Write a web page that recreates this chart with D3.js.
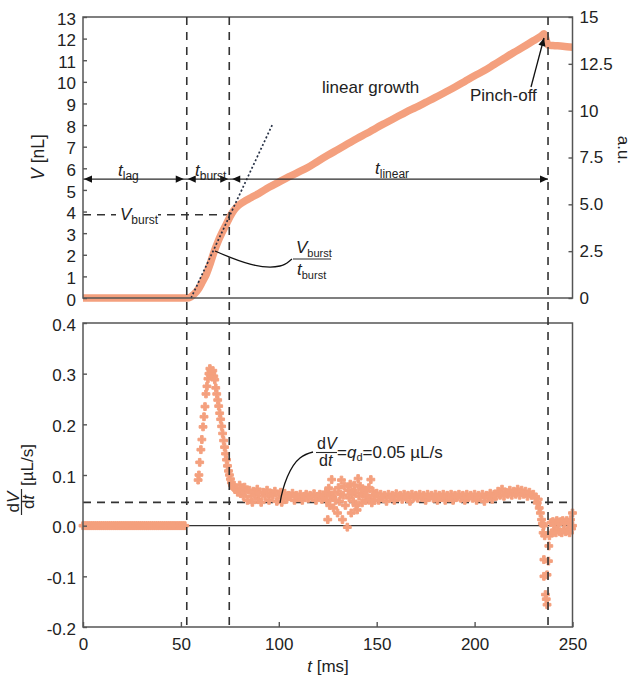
<!DOCTYPE html>
<html><head><meta charset="utf-8">
<script src="https://cdn.jsdelivr.net/npm/d3@7"></script>
<style>
body{margin:0;background:#fff}
svg{display:block}
text{font-family:"Liberation Sans",Arial,Helvetica,sans-serif;fill:#222}
</style>
</head><body><svg id="c" width="632" height="680"></svg>
<script>
// ---------- data ----------
const timeTicks = [0, 50, 100, 150, 200, 250];
const volumeTicks = [0, 1, 2, 3, 4, 5, 6, 7, 8, 9, 10, 11, 12, 13];
const auTicks = [0, 2.5, 5, 7.5, 10, 12.5, 15];
const auLabels = ["0", "2.5", "5.0", "7.5", "10", "12.5", "15"];
const rateTicks = [-0.2, -0.1, 0, 0.1, 0.2, 0.3, 0.4];
const rateLabels = ["-0.2", "-0.1", "0.0", "0.1", "0.2", "0.3", "0.4"];

// droplet volume V [nL] vs t [ms]
const volumeT = [0, 10, 20, 30, 40, 50, 53, 55, 57, 59, 61, 63, 65, 67, 69, 71, 73, 75, 77, 79, 82, 86, 90, 95, 100, 105, 110, 115, 120, 125, 130, 135, 140, 145, 150, 155, 160, 165, 170, 175, 180, 185, 190, 195, 200, 205, 210, 215, 220, 225, 230, 234, 235.5, 236.5, 237.5, 240, 245, 250];
const volumeV = [0, 0, 0, 0, 0, 0, 0, 0.05, 0.2, 0.42, 0.75, 1.1, 1.6, 2.15, 2.62, 3.02, 3.38, 3.75, 4.05, 4.25, 4.45, 4.65, 4.85, 5.12, 5.36, 5.6, 5.82, 6.05, 6.33, 6.6, 6.86, 7.12, 7.38, 7.62, 7.88, 8.12, 8.36, 8.6, 8.82, 9.05, 9.28, 9.52, 9.76, 10.02, 10.28, 10.52, 10.8, 11.08, 11.36, 11.62, 11.9, 12.12, 12.22, 11.95, 11.7, 11.68, 11.65, 11.6];

// flow rate dV/dt [uL/s] vs t [ms]
const rateLagT = [0,1,2,3,4,5,6,7,8,9,10,11,12,13,14,15,16,17,18,19,20,21,22,23,24,25,26,27,28,29,30,31,32,33,34,35,36,37,38,39,40,41,42,43,44,45,46,47,48,49,50,51,52];
const rateLagV = [0,0,0,0,0,0,0,0,0,0,0,0,0,0,0,0,0,0,0,0,0,0,0,0,0,0,0,0,0,0,0,0,0,0,0,0,0,0,0,0,0,0,0,0,0,0,0,0,0,0,0,0,0];
const rateBurst = [[58.8,.09],[59.2,.1],[59.6,.125],[60.2,.15],[60.7,.17],[61.3,.195],[61.8,.215],[62.3,.235],[62.8,.26],[63.3,.275],[63.8,.29],[64.3,.3],[64.8,.31],[65.3,.305],[65.8,.3],[66.3,.306],[66.8,.295],[67.3,.288],[67.8,.272],[68.3,.26],[68.8,.248],[69.3,.236],[69.8,.222],[70.3,.21],[70.8,.196],[71.3,.182],[71.8,.168],[72.3,.155],[72.8,.142],[73.3,.13],[73.8,.118],[74.3,.108],[74.8,.1],[75.3,.092],[75.8,.085],[76.3,.08],[76.8,.076],[77.3,.074]];
const rateLinear = [[78,.072],[79,.066],[80,.08],[80.5,.064],[81,.07],[82,.058],[82.5,.076],[83,.066],[84,.05],[85,.07],[86,.058],[86.5,.046],[87,.068],[88,.06],[89,.072],[89.5,.052],[90,.064],[91,.046],[92,.066],[93,.058],[94,.07],[95,.05],[96,.064],[97,.06],[98,.068],[99,.048],[100,.06],[101,.066],[101.5,.046],[102,.056],[103,.064],[104,.052],[105,.06],[106,.058],[107,.064],[108,.05],[109,.06],[110,.056],[111,.062],[112,.05],[113,.058],[114,.062],[115,.054],[116,.06],[117,.056],[118,.063],[119,.05],[120,.058],[121,.062],[122,.052],[123,.06],[124,.066],[124.5,.05],[125,.012],[125.5,.074],[126,.04],[126.5,.06],[127,.091],[127.5,.056],[128,.035],[128.5,.066],[129,.05],[130,.025],[130.5,.075],[131,.048],[131.5,.062],[132,.09],[132.5,.012],[133,.06],[133.5,.078],[134,.04],[135,-.003],[135.5,.07],[136,.055],[136.5,.082],[137,.025],[137.5,.066],[138,.048],[138.5,.08],[139,.065],[139.5,.04],[140,.031],[140.5,.093],[141,.058],[141.5,.078],[142,.072],[142.5,.045],[143,.062],[144,.07],[144.5,.05],[145,.06],[146,.075],[146.5,.052],[147,.091],[147.5,.045],[148,.068],[148.5,.058],[149,.05],[150,.064],[151,.05],[152,.062],[153,.056],[154,.06],[155,.048],[156,.062],[157,.055],[158,.06],[159,.05],[160,.063],[161,.056],[162,.06],[163,.052],[164,.062],[165,.056],[166,.06],[167,.048],[168,.062],[169,.056],[170,.06],[171,.054],[172,.062],[173,.056],[174,.06],[175,.05],[176,.062],[177,.056],[178,.06],[179,.054],[180,.062],[181,.05],[182,.06],[183,.056],[184,.062],[185,.05],[186,.06],[187,.055],[188,.062],[189,.05],[190,.06],[191,.056],[192,.062],[193,.054],[194,.06],[195,.05],[196,.062],[197,.056],[198,.06],[199,.054],[200,.062],[201,.05],[202,.06],[203,.056],[204,.062],[205,.048],[206,.06],[207,.056],[208,.064],[209,.052],[210,.062],[211,.058],[212,.068],[213,.06],[214,.072],[215,.058],[216,.066],[217,.062],[218,.07],[219,.06],[220,.068],[221,.062],[222,.072],[223,.06],[224,.07],[225,.062],[226,.068],[227,.058],[228,.066],[229,.06],[230,.062],[231,.055]];
const ratePinch = [[232,.045],[232.5,.052],[233,.035],[233.6,.025],[234.2,.012],[234.6,.004],[235,-.014],[235.3,0],[235.4,-.067],[235.4,-.1],[235.8,-.02],[236.2,-.136],[236.6,-.145],[237,-.097],[237,-.156],[237.7,-.07],[237.9,-.04],[238.2,-.02],[239,.006],[239.5,-.014],[240,.008],[240.5,-.01],[241,.004],[241.5,-.014],[242,.01],[242.5,-.008],[243,.006],[243.5,-.012],[244,.008],[244.5,-.014],[245,.01],[245.5,-.008],[246,.006],[246.5,-.012],[247,.01],[247.5,-.01],[248,.006],[248.5,-.014],[249,.012],[249.5,-.006],[250,.025],[250,0]];

// annotation values
const tLag = 53, tBurstEnd = 74.7, tPinch = 237.5;
const vBurst = 3.85, qd = 0.046, arrowV = 5.5;
const tangentT = [55.2, 96.6], tangentV = [0, 8.0];

// ---------- layout ----------
const ORANGE = "#F4A07E", INK = "#2a2a2a", AX = "#555";
const L = 83, R = 572.5;
const topY0 = 17, topY1 = 298, botY0 = 323, botY1 = 627;
const svg = d3.select("#c");

const x = d3.scaleLinear([0, 250], [L, R]);
const yV = d3.scaleLinear([0, 13], [topY1, topY0]);
const yAU = d3.scaleLinear([0, 15], [topY1, topY0]);
const yR = d3.scaleLinear([-0.2, 0.4], [botY1, botY0]);

const defs = svg.append("defs");
defs.append("marker").attr("id", "ah").attr("viewBox", "0 0 10 10")
  .attr("refX", 10).attr("refY", 5).attr("markerWidth", 9).attr("markerHeight", 8)
  .attr("markerUnits", "userSpaceOnUse").attr("orient", "auto-start-reverse")
  .append("path").attr("d", "M0,0.5L10,5L0,9.5Z").attr("fill", "#111");

// ---------- top panel ----------
const gTop = svg.append("g");
gTop.append("line").attr("x1", L).attr("x2", x(tBurstEnd)).attr("y1", yV(vBurst)).attr("y2", yV(vBurst))
  .attr("stroke", "#333").attr("stroke-width", 1.6).attr("stroke-dasharray", "8,6");
gTop.append("rect").attr("x", 116).attr("y", yV(vBurst) - 9).attr("width", 42).attr("height", 18).attr("fill", "#fff");

const vPts = volumeT.map((t, i) => [t, volumeV[i]]);
gTop.append("path").datum(vPts)
  .attr("d", d3.line().x(d => x(d[0])).y(d => yV(d[1])).curve(d3.curveMonotoneX))
  .attr("fill", "none").attr("stroke", ORANGE).attr("stroke-width", 7.5).attr("stroke-linejoin", "round");

gTop.append("line").attr("x1", x(tangentT[0])).attr("y1", yV(tangentV[0])).attr("x2", x(tangentT[1])).attr("y2", yV(tangentV[1]))
  .attr("stroke", "#263045").attr("stroke-width", 1.7).attr("stroke-dasharray", "2,2.2");

const ay = yV(arrowV);
gTop.append("line").attr("x1", L).attr("x2", x(tPinch)).attr("y1", ay).attr("y2", ay).attr("stroke", INK).attr("stroke-width", 1.4);
[[L + 12, L + 1], [x(tLag) - 12, x(tLag) - 3], [x(tLag) + 12, x(tLag) + 1], [x(tBurstEnd) - 12, x(tBurstEnd) - 1], [x(tBurstEnd) + 12, x(tBurstEnd) + 3], [x(tPinch) - 12, x(tPinch)]]
  .forEach(p => {
    gTop.append("path").attr("d", `M${p[0]},${ay}L${p[1]},${ay}`).attr("stroke", "none").attr("fill", "none").attr("marker-end", "url(#ah)");
  });

function subLabel(g, xp, yp, main, sub, fs, sfs, italicMain){
  const t = g.append("text").attr("x", xp).attr("y", yp).attr("font-size", fs);
  t.append("tspan").text(main).attr("font-style", italicMain ? "italic" : "normal");
  t.append("tspan").text(sub).attr("font-size", sfs).attr("dy", 4);
  return t;
}
subLabel(gTop, 118, 176, "t", "lag", 17, 12, true);
subLabel(gTop, 195, 176, "t", "burst", 17, 12, true);
subLabel(gTop, 375, 174, "t", "linear", 17, 12, true);
subLabel(gTop, 120, 220, "V", "burst", 17, 12, true);

subLabel(gTop, 296, 253, "V", "burst", 17, 11, true);
gTop.append("line").attr("x1", 293).attr("x2", 331).attr("y1", 259).attr("y2", 259).attr("stroke", INK).attr("stroke-width", 1.2);
subLabel(gTop, 297, 275, "t", "burst", 17, 11, true);
gTop.append("path").attr("d", "M215,251 C240,262 262,270 280,266 C286,265 289,261 292,259")
  .attr("fill", "none").attr("stroke", "#111").attr("stroke-width", 1.3);

gTop.append("text").attr("x", 322).attr("y", 93).attr("font-size", 17).text("linear growth");
gTop.append("text").attr("x", 470).attr("y", 101).attr("font-size", 17).text("Pinch-off");
gTop.append("line").attr("x1", 531).attr("y1", 87).attr("x2", 544).attr("y2", 38)
  .attr("stroke", "#111").attr("stroke-width", 1.3).attr("marker-end", "url(#ah)");

gTop.append("rect").attr("x", L).attr("y", topY0).attr("width", R - L).attr("height", topY1 - topY0)
  .attr("fill", "none").attr("stroke", AX).attr("stroke-width", 1.5);
gTop.append("g").attr("transform", `translate(${L},0)`)
  .call(d3.axisLeft(yV).tickValues(volumeTicks).tickFormat(d3.format("d")).tickSizeInner(-4).tickSizeOuter(0).tickPadding(7));
gTop.append("g").attr("transform", `translate(${R},0)`)
  .call(d3.axisRight(yAU).tickValues(auTicks).tickFormat((d, i) => auLabels[i]).tickSizeInner(-4).tickSizeOuter(0).tickPadding(7));

// ---------- bottom panel ----------
const gBot = svg.append("g");
gBot.append("line").attr("x1", L).attr("x2", R).attr("y1", yR(qd)).attr("y2", yR(qd))
  .attr("stroke", "#333").attr("stroke-width", 1.6).attr("stroke-dasharray", "8,6");
gBot.append("line").attr("x1", L).attr("x2", R).attr("y1", yR(0)).attr("y2", yR(0))
  .attr("stroke", "#333").attr("stroke-width", 1.3);

const ratePts = rateLagT.map((t, i) => [t, rateLagV[i]]).concat(rateBurst, rateLinear, ratePinch);
const sym = d3.symbol().type(d3.symbolCross).size(34);
gBot.selectAll("path.pt").data(ratePts).join("path").attr("class", "pt")
  .attr("transform", d => `translate(${x(d[0])},${yR(d[1])})`)
  .attr("d", sym).attr("fill", ORANGE).attr("stroke", ORANGE).attr("stroke-width", 1).attr("stroke-linejoin", "round");

gBot.append("path").attr("d", "M280,503 C283,485 290,466 300,458 C305,454 309,453 313,452")
  .attr("fill", "none").attr("stroke", "#111").attr("stroke-width", 1.3);
const ann = gBot.append("g");
const n1 = ann.append("text").attr("x", 317).attr("y", 449).attr("font-size", 16);
n1.append("tspan").text("d"); n1.append("tspan").text("V").attr("font-style", "italic");
ann.append("line").attr("x1", 316).attr("x2", 337).attr("y1", 452.5).attr("y2", 452.5).attr("stroke", INK).attr("stroke-width", 1.1);
const d1 = ann.append("text").attr("x", 319).attr("y", 466).attr("font-size", 16);
d1.append("tspan").text("d"); d1.append("tspan").text("t").attr("font-style", "italic");
const eq = ann.append("text").attr("x", 337).attr("y", 458).attr("font-size", 17);
eq.append("tspan").text("=");
eq.append("tspan").text("q").attr("font-style", "italic");
eq.append("tspan").text("d").attr("font-size", 11).attr("dy", 3);
eq.append("tspan").text("=0.05 µL/s").attr("dy", -3);

gBot.append("rect").attr("x", L).attr("y", botY0).attr("width", R - L).attr("height", botY1 - botY0)
  .attr("fill", "none").attr("stroke", AX).attr("stroke-width", 1.5);
gBot.append("g").attr("transform", `translate(${L},0)`)
  .call(d3.axisLeft(yR).tickValues(rateTicks).tickFormat((d, i) => rateLabels[i]).tickSizeInner(-4).tickSizeOuter(0).tickPadding(7));
gBot.append("g").attr("transform", `translate(0,${botY1})`)
  .call(d3.axisBottom(x).tickValues(timeTicks).tickFormat(d3.format("d")).tickSizeInner(-5).tickSizeOuter(0).tickPadding(11));

[tLag, tBurstEnd, tPinch].forEach(t => {
  svg.append("line").attr("x1", x(t)).attr("x2", x(t)).attr("y1", topY0).attr("y2", botY1)
    .attr("stroke", "#333").attr("stroke-width", 1.6).attr("stroke-dasharray", "8,7");
});

svg.selectAll(".domain").remove();
svg.selectAll(".tick line").attr("stroke", AX).attr("stroke-width", 1.4);
svg.selectAll(".tick text").attr("font-size", 17).attr("fill", "#222")
  .attr("font-family", "'Liberation Sans',Arial,sans-serif");
svg.selectAll("g").filter(function(){ return this.getAttribute("text-anchor") === "end"; })
  .selectAll(".tick text").attr("dy", "0.42em");

const tV = svg.append("text").attr("transform", "translate(44,157) rotate(-90)").attr("text-anchor", "middle").attr("font-size", 17.5);
tV.append("tspan").text("V").attr("font-style", "italic"); tV.append("tspan").text(" [nL]");
svg.append("text").attr("transform", "translate(618,150) rotate(90)").attr("text-anchor", "middle").attr("font-size", 17).text("a.u.");
const tT = svg.append("text").attr("x", 328).attr("y", 672).attr("text-anchor", "middle").attr("font-size", 17);
tT.append("tspan").text("t").attr("font-style", "italic"); tT.append("tspan").text(" [ms]");

const yt = svg.append("g").attr("transform", "translate(21,480) rotate(-90)");
const yn = yt.append("text").attr("x", -22).attr("y", -2).attr("text-anchor", "middle").attr("font-size", 17);
yn.append("tspan").text("d"); yn.append("tspan").text("V").attr("font-style", "italic");
yt.append("line").attr("x1", -35).attr("x2", -9).attr("y1", 0.5).attr("y2", 0.5).attr("stroke", INK).attr("stroke-width", 1.2);
const yd = yt.append("text").attr("x", -22).attr("y", 13).attr("text-anchor", "middle").attr("font-size", 17);
yd.append("tspan").text("d"); yd.append("tspan").text("t").attr("font-style", "italic");
yt.append("text").attr("x", -6).attr("y", 12).attr("font-size", 17).text("[µL/s]");
</script></body></html>
